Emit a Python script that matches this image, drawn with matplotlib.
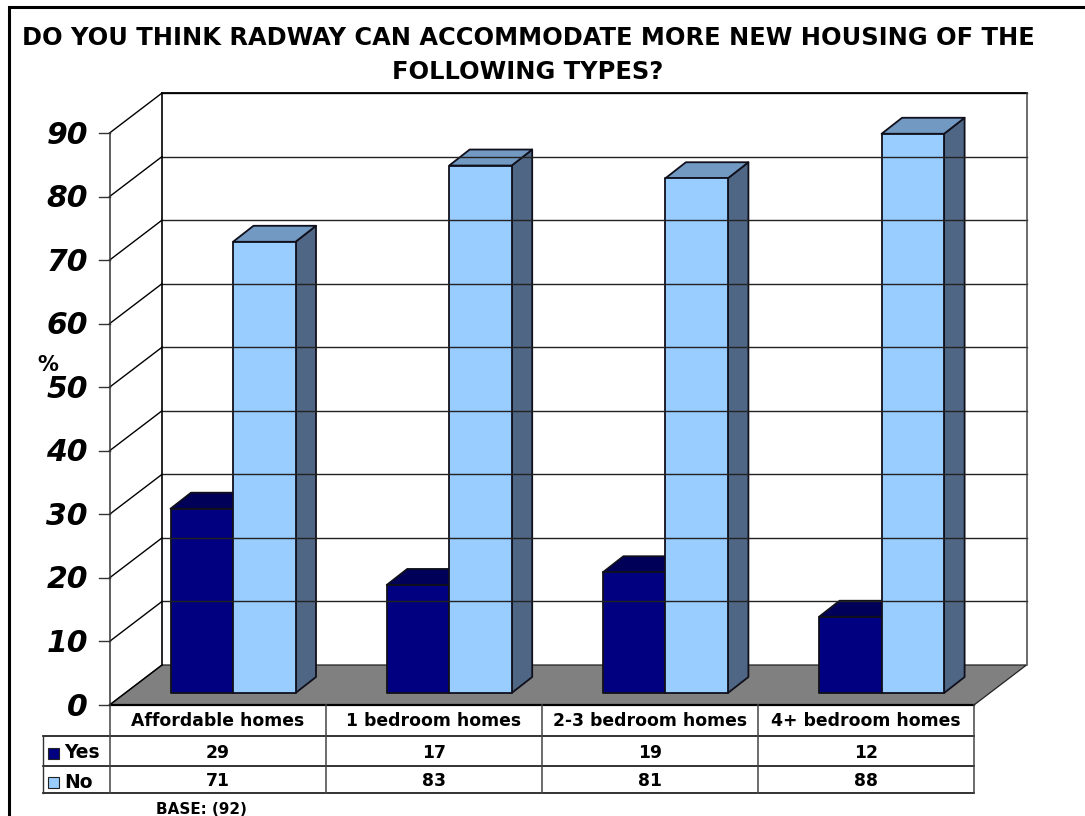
import matplotlib
matplotlib.use("Agg")
import matplotlib.pyplot as plt
from matplotlib.patches import Polygon, Rectangle

# data dari gambar
kategori = ["Affordable homes", "1 bedroom homes", "2-3 bedroom homes", "4+ bedroom homes"]
yes_val = [29, 17, 19, 12]
no_val = [71, 83, 81, 88]
y_ticks = [0, 10, 20, 30, 40, 50, 60, 70, 80, 90]

judul = ["DO YOU THINK RADWAY CAN ACCOMMODATE MORE NEW HOUSING OF THE", "FOLLOWING TYPES?"]

# warna
c_yes = ["#000080", "#000058", "#00004c"]
c_no = ["#99ccff", "#7299c2", "#4f6785"]

# ukuran dalam piksel
x_depan, x_belakang, x_kanan = 109.5, 162, 1026.5
y0_depan, y0_belakang = 705, 665
skala = 6.355
bar_x0, bar_w, bar_step, bar_base = 170.5, 62.5, 216.2, 693
dx, dy = 20.5, 16

fig = plt.figure(figsize=(10.85, 8.16), dpi=100)
ax = fig.add_axes([0, 0, 1, 1])
ax.set_xlim(0, 1085)
ax.set_ylim(816, 0)
ax.axis("off")

font = "DejaVu Sans"

# bingkai
ax.plot([8.5, 8.5, 1085], [816, 6.5, 6.5], color="black", lw=2.2, solid_joinstyle="miter")

ax.text(528, 38, judul[0], ha="center", va="center", fontsize=17.4, fontweight="bold", family=font)
ax.text(528, 72, judul[1], ha="center", va="center", fontsize=17.4, fontweight="bold", family=font)

# dinding dan garis grid
for t in y_ticks:
    yb = y0_belakang - t * skala
    yf = y0_depan - t * skala
    if t > 0:
        ax.plot([x_belakang, x_kanan], [yb, yb], color="#222222", lw=1.0)
    ax.plot([x_depan, x_belakang], [yf, yb], color="black", lw=1.0)
    ax.plot([99, x_depan], [yf, yf], color="#333333", lw=1.0)
    ax.text(88, yf + 2, str(t), ha="right", va="center", fontsize=21.5, fontweight="bold",
            fontstyle="italic", family=font)

top_b = y0_belakang - 90 * skala
ax.plot([x_belakang, x_kanan], [top_b, top_b], color="black", lw=1.3)
ax.plot([x_belakang, x_belakang], [top_b, y0_belakang], color="black", lw=1.2)
ax.plot([x_kanan, x_kanan], [top_b, y0_belakang], color="#444444", lw=1.1)
ax.plot([x_depan, x_depan], [y0_depan - 90 * skala, y0_depan], color="#333333", lw=1.1)

# lantai
x_kanan_depan = x_kanan - (x_belakang - x_depan)
ax.add_patch(Polygon([(x_depan, y0_depan), (x_belakang, y0_belakang), (x_kanan, y0_belakang),
                      (x_kanan_depan, y0_depan)], closed=True, facecolor="#808080",
                     edgecolor="#222222", lw=0.9))
ax.plot([x_depan, x_kanan_depan], [y0_depan, y0_depan], color="black", lw=1.6)


def bar3d(x, nilai, warna):
    yt = bar_base - nilai * skala
    x2 = x + bar_w
    garis = dict(edgecolor="#10101c", lw=1.3, joinstyle="round")
    ax.add_patch(Polygon([(x2, bar_base), (x2 + dx, bar_base - dy), (x2 + dx, yt - dy), (x2, yt)],
                         closed=True, facecolor=warna[2], **garis))
    ax.add_patch(Polygon([(x, yt), (x + dx, yt - dy), (x2 + dx, yt - dy), (x2, yt)],
                         closed=True, facecolor=warna[1], **garis))
    ax.add_patch(Rectangle((x, yt), bar_w, nilai * skala, facecolor=warna[0], **garis))


for i in range(len(kategori)):
    x = bar_x0 + i * bar_step
    bar3d(x, yes_val[i], c_yes)
    bar3d(x + bar_w, no_val[i], c_no)

ax.text(48, 365, "%", ha="center", va="center", fontsize=15, fontweight="bold", family=font)

# tabel data
baris = [705, 735.7, 765.7, 793]
kol = [x_depan + i * (x_kanan_depan - x_depan) / 4 for i in range(5)]
warna_tabel = "#111111"
for y in baris[1:]:
    ax.plot([42.5, kol[-1]], [y, y], color=warna_tabel, lw=1.2)
ax.plot([42.5, 42.5], [baris[1], baris[3]], color="#333333", lw=1)
for x in kol:
    ax.plot([x, x], [baris[0], baris[3]], color="#444444", lw=1.1)

for i in range(len(kategori)):
    xc = (kol[i] + kol[i + 1]) / 2
    ax.text(xc, 721, kategori[i], ha="center", va="center", fontsize=12.4, fontweight="bold", family=font)
    ax.text(xc, 752.5, str(yes_val[i]), ha="center", va="center", fontsize=12.4, fontweight="bold", family=font)
    ax.text(xc, 781.5, str(no_val[i]), ha="center", va="center", fontsize=12.4, fontweight="bold", family=font)

ax.add_patch(Rectangle((47.5, 747.5), 11, 11, facecolor=c_yes[0], edgecolor="#222222", lw=0.8))
ax.add_patch(Rectangle((47.5, 777), 11, 11, facecolor=c_no[0], edgecolor="#222222", lw=0.8))
ax.text(64, 753, "Yes", ha="left", va="center", fontsize=13.5, fontweight="bold", family=font)
ax.text(64, 783, "No", ha="left", va="center", fontsize=13.5, fontweight="bold", family=font)

ax.text(201, 810, "BASE: (92)", ha="center", va="center", fontsize=10.9, fontweight="bold", family=font)

fig.savefig("out.png", dpi=100)
